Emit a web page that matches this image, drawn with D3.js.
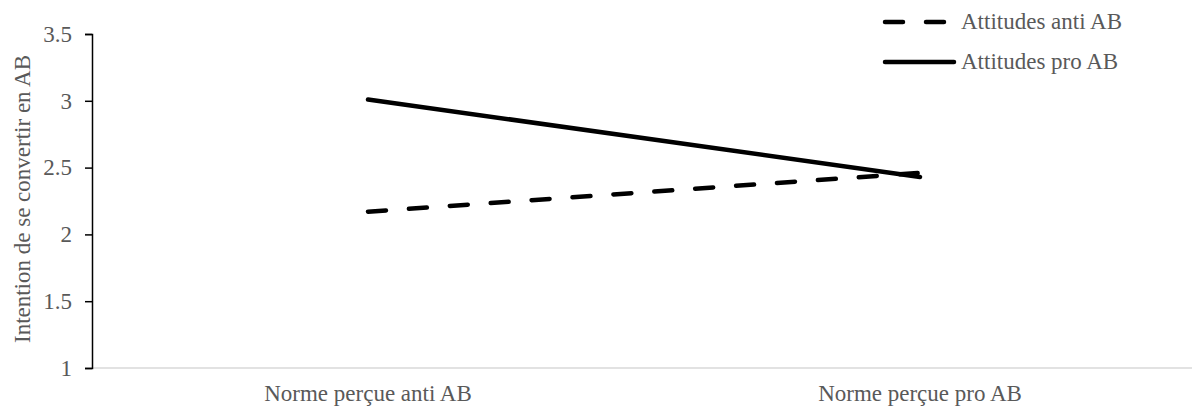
<!DOCTYPE html>
<html><head><meta charset="utf-8">
<script src="https://cdn.jsdelivr.net/npm/d3@7"></script>
<style>
html,body{margin:0;padding:0;background:#fff;}
svg text{font-family:"Liberation Serif","Times New Roman",serif;fill:#595959;}
</style></head>
<body>
<svg id="chart" width="1192" height="412"></svg>
<script>
const categories = ["Norme perçue anti AB", "Norme perçue pro AB"];
const antiValues = [2.17, 2.46];
const proValues = [3.01, 2.43];
const seriesNames = ["Attitudes anti AB", "Attitudes pro AB"];
const yTicks = [1, 1.5, 2, 2.5, 3, 3.5];
const yTitle = "Intention de se convertir en AB";

const svg = d3.select("#chart");
const W = 1192, H = 412;
const fs = 23;

const x = d3.scaleBand().domain(categories).range([92, 1196]);
const y = d3.scaleLinear().domain([1, 3.5]).range([368, 34]);

// bottom axis line (gray)
svg.append("line").attr("x1", 92).attr("x2", W).attr("y1", y(1)).attr("y2", y(1))
  .attr("stroke", "#d9d9d9").attr("stroke-width", 1.5);

// y axis
const yAxis = svg.append("g").attr("transform", "translate(92,0)")
  .call(d3.axisLeft(y).tickValues(yTicks).tickSize(7).tickPadding(13)
        .tickFormat(d => String(d)));
yAxis.select(".domain").attr("stroke", "#000").attr("stroke-width", 1.5);
yAxis.selectAll(".tick line").attr("stroke", "#000").attr("stroke-width", 1.5);
yAxis.selectAll(".tick text").attr("font-size", fs).attr("font-family", "Liberation Serif").attr("fill", "#595959");

// x labels
svg.append("g").selectAll("text").data(categories).join("text")
  .attr("x", d => x(d) + x.bandwidth() / 2).attr("y", 401)
  .attr("text-anchor", "middle").attr("font-size", fs).text(d => d);

// y title
svg.append("text").attr("transform", `translate(30,${(y(1)+y(3.5))/2 - 2}) rotate(-90)`)
  .attr("text-anchor", "middle").attr("font-size", fs).text(yTitle);

const line = d3.line().x((d, i) => x(categories[i]) + x.bandwidth() / 2).y(d => y(d));

svg.append("path").datum(antiValues).attr("d", line).attr("fill", "none")
  .attr("stroke", "#000").attr("stroke-width", 4.5).attr("stroke-linecap", "round")
  .attr("stroke-dasharray", "18 23");
svg.append("path").datum(proValues).attr("d", line).attr("fill", "none")
  .attr("stroke", "#000").attr("stroke-width", 4.5).attr("stroke-linecap", "round");

// legend
const leg = svg.append("g");
leg.append("line").attr("x1", 885).attr("x2", 950).attr("y1", 22).attr("y2", 22)
  .attr("stroke", "#000").attr("stroke-width", 4.5).attr("stroke-linecap", "round")
  .attr("stroke-dasharray", "18 23");
leg.append("line").attr("x1", 885).attr("x2", 954).attr("y1", 62).attr("y2", 62)
  .attr("stroke", "#000").attr("stroke-width", 4.5).attr("stroke-linecap", "round");
leg.append("text").attr("x", 961).attr("y", 29).attr("font-size", fs).text(seriesNames[0]);
leg.append("text").attr("x", 961).attr("y", 69).attr("font-size", fs).text(seriesNames[1]);
</script>
</body></html>
